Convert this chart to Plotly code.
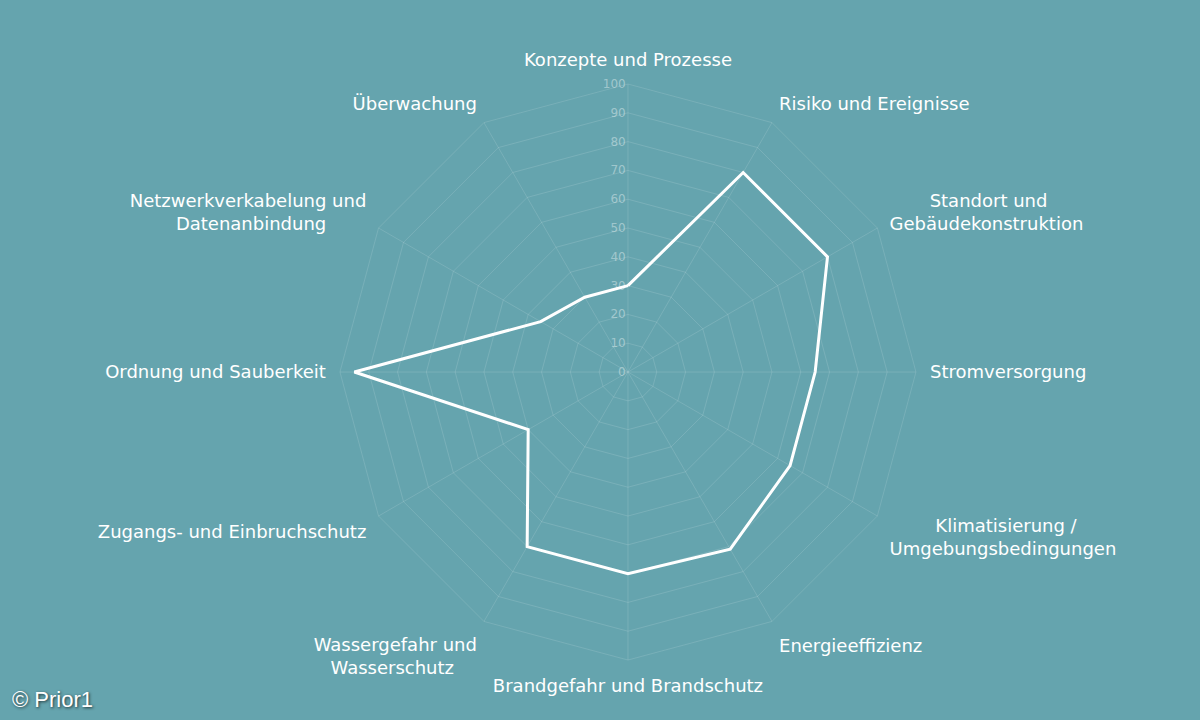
"""Radar chart of data center assessment scores"""

import plotly.graph_objects as go

NB = "\u00a0"

categories = [
    "Konzepte und Prozesse",
    "Risiko und Ereignisse",
    NB * 7 + "Standort und<br>Gebäudekonstruktion",
    "Stromversorgung",
    NB * 8 + "Klimatisierung /<br>Umgebungsbedingungen",
    "Energieeffizienz",
    "Brandgefahr und Brandschutz",
    "Wassergefahr und<br>Wasserschutz" + NB * 4,
    "Zugangs- und Einbruchschutz",
    "Ordnung und Sauberkeit",
    "Netzwerkverkabelung und<br>Datenanbindung" + NB * 7,
    "Überwachung",
]
scores = [30, 80, 80, 65, 65, 71, 70, 70, 40, 95, 35, 30]
tick_vals = [0, 10, 20, 30, 40, 50, 60, 70, 80, 90, 100]

BG = "#65a4ae"
GRID = "rgba(255,255,255,0.13)"

fig = go.Figure()
fig.add_trace(
    go.Scatterpolar(
        r=scores + scores[:1],
        theta=categories + categories[:1],
        mode="lines",
        line={"color": "white", "width": 3},
        showlegend=False,
        hoverinfo="skip",
    )
)

fig.update_layout(
    width=1200,
    height=720,
    paper_bgcolor=BG,
    plot_bgcolor=BG,
    margin={"l": 0, "r": 0, "t": 0, "b": 0},
    font={"family": "DejaVu Sans", "color": "white", "size": 18},
    polar={
        "bgcolor": BG,
        "domain": {"x": [0.2833, 0.7633], "y": [0.0833, 0.8833]},
        "gridshape": "linear",
        "radialaxis": {
            "range": [0, 100],
            "tickvals": tick_vals,
            "ticksuffix": NB * 2,
            "angle": 90,
            "tickangle": 90,
            "side": "counterclockwise",
            "showline": False,
            "gridcolor": GRID,
            "ticks": "",
            "tickfont": {"size": 12, "color": "rgba(255,255,255,0.4)"},
        },
        "angularaxis": {
            "direction": "clockwise",
            "rotation": 90,
            "gridcolor": GRID,
            "linecolor": GRID,
            "ticks": "outside",
            "ticklen": 10,
            "tickcolor": "rgba(0,0,0,0)",
            "tickfont": {"size": 18, "color": "white"},
        },
    },
    annotations=[
        {
            "text": "© Prior1",
            "x": 0.008,
            "y": 0.008,
            "xref": "paper",
            "yref": "paper",
            "xanchor": "left",
            "yanchor": "bottom",
            "showarrow": False,
            "font": {
                "family": "Liberation Sans",
                "size": 22,
                "color": "white",
                "shadow": "1px 1px 3px rgba(0,0,0,0.7)",
            },
        }
    ],
)

fig.write_html(
    "out.html",
    config={"displayModeBar": False},
    post_script="document.body.style.margin='0';",
)
